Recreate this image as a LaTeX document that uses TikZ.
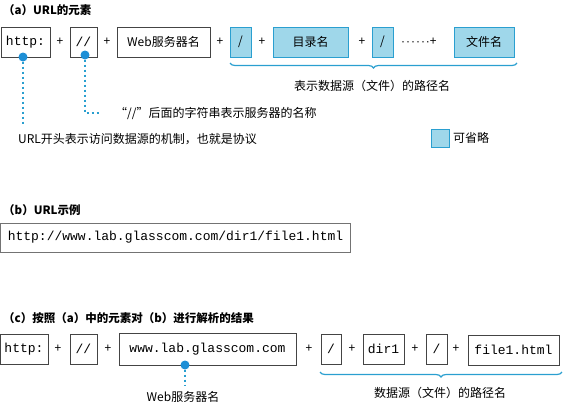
\documentclass[tikz,border=0pt]{standalone}
\usepackage{fontspec}
\setmainfont{Noto Sans CJK SC}
\setmonofont{Liberation Mono}
\newfontfamily\dotfont[LetterSpace=8]{Liberation Sans}
\usetikzlibrary{decorations.pathreplacing}

\definecolor{optfill}{HTML}{9FD7EA}
\definecolor{optline}{HTML}{2A9FD0}
\definecolor{dotblue}{HTML}{1E8FD6}
\definecolor{boxline}{HTML}{444444}

\tikzset{
  elem/.style={draw=boxline, line width=0.8pt, minimum height=30pt, inner sep=0pt,
    font=\ttfamily\fontsize{13pt}{15pt}\selectfont},
  part/.style={elem, font=\fontsize{12pt}{14pt}\selectfont},
  opt/.style={part, draw=optline, fill=optfill},
  plus/.style={inner sep=0pt, font=\fontsize{12pt}{14pt}\selectfont},
  note/.style={inner sep=0pt, font=\fontsize{12pt}{14pt}\selectfont},
  title/.style={anchor=west, inner sep=0pt, font=\bfseries\fontsize{11.5pt}{14pt}\selectfont},
  dot/.style={circle, fill=dotblue, inner sep=0pt, minimum size=9pt},
  dotline/.style={draw=optline, line width=1.4pt, dash pattern=on 2.5pt off 2.5pt},
  pathbrace/.style={draw=optline, line width=1.2pt, decorate,
    decoration={brace, mirror, amplitude=5pt}},
}

\begin{document}
\begin{tikzpicture}[x=1pt, y=-1pt]
  \useasboundingbox (0,0) rectangle (573,408);
  % (a) elements of a URL
  \node[title] (ta) at (3,10) {（a）URL的元素};
  \node[elem, minimum width=49pt] (http) at (25.5,42) {http:};
  \node[plus] (p1) at (60,42) {+};
  \node[elem, minimum width=27pt] (sl) at (83.5,42) {//};
  \node[plus] (p2) at (107,42) {+};
  \node[part, minimum width=93pt] (web) at (163.5,42) {Web服务器名};
  \node[plus] (p3) at (220,42) {+};
  \node[opt, minimum width=21pt] (s1) at (240.5,42) {/};
  \node[plus] (p4) at (262,42) {+};
  \node[opt, minimum width=75pt] (dir) at (310.5,42) {目录名};
  \node[plus] (p5) at (362,42) {+};
  \node[opt, minimum width=21pt] (s2) at (382.5,42) {/};
  \node[plus, anchor=west] (p6) at (401,42) {{\dotfont ······}+};
  \node[opt, minimum width=60pt] (file) at (484,42) {文件名};
  \draw[pathbrace] (230,63) -- (517,63);
  \node[note] (pathlbl) at (372,86) {表示数据源（文件）的路径名};

  \node[dot] (dhttp) at (23,57) {};
  \node[dot] (dsl) at (85,55) {};
  \coordinate (ehttp) at (23,125);
  \coordinate (esl) at (100,113);
  \draw[dotline] (dhttp) -- (ehttp);
  \draw[dotline] (dsl) |- (esl);
  \node[note, anchor=west] (slnote) at (115,113) {“//”后面的字符串表示服务器的名称};
  \node[note, anchor=west] (httpnote) at (18,139) {URL开头表示访问数据源的机制，也就是协议};
  \node[opt, minimum width=18pt, minimum height=18pt] (legend) at (440,138) {};
  \node[note, anchor=west] (legendlbl) at (453,138) {可省略};

  % (b) example
  \node[title] (tb) at (3,210) {（b）URL示例};
  \node[elem, draw=black!55, line width=1pt, minimum width=350pt, minimum height=29pt]
    (url) at (175.5,237.5) {http://www.lab.glasscom.com/dir1/file1.html};

  % (c) parsed
  \node[title] (tc) at (3,318) {（c）按照（a）中的元素对（b）进行解析的结果};
  \node[elem, minimum width=48pt] (chttp) at (24,349) {http:};
  \node[plus] (q1) at (58,349) {+};
  \node[elem, minimum width=27pt] (csl) at (83.5,349) {//};
  \node[plus] (q2) at (108,349) {+};
  \node[elem, minimum width=177pt, minimum height=32pt] (host) at (207.5,349) {www.lab.glasscom.com};
  \node[plus] (q3) at (309,349) {+};
  \node[elem, minimum width=20pt] (cs1) at (331,349) {/};
  \node[plus] (q4) at (352,349) {+};
  \node[elem, minimum width=41pt] (cdir) at (383.5,349) {dir1};
  \node[plus] (q5) at (415,349) {+};
  \node[elem, minimum width=21pt] (cs2) at (436.5,349) {/};
  \node[plus] (q6) at (456,349) {+};
  \node[elem, minimum width=91pt] (cfile) at (513.5,350) {file1.html};
  \draw[pathbrace] (320,372) -- (562,372);
  \node[note] (cpathlbl) at (440,393) {数据源（文件）的路径名};

  \node[dot] (dhost) at (185,365) {};
  \coordinate (ehost) at (185,386);
  \draw[dotline] (dhost) -- (ehost);
  \node[note] (hostlbl) at (183,397) {Web服务器名};
\end{tikzpicture}
\end{document}
